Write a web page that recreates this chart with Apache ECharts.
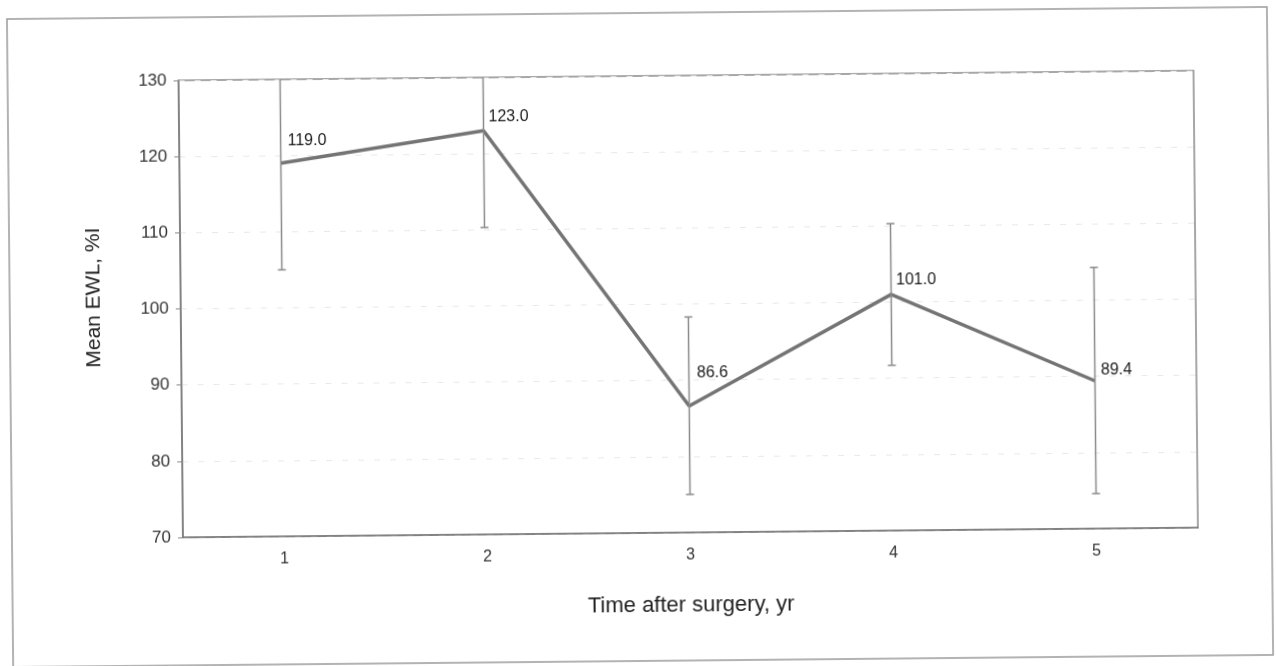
<!DOCTYPE html>
<html>
<head>
<meta charset="utf-8">
<script src="https://cdn.jsdelivr.net/npm/echarts@6/dist/echarts.min.js"></script>
<style>
html,body{margin:0;padding:0;background:#fff;}
#chart{width:1276px;height:666px;transform:rotate(-0.55deg);transform-origin:638px 333px;}
</style>
</head>
<body>
<div id="chart"></div>
<script>
// ---- data ----
const categories = ['1', '2', '3', '4', '5'];
const meanEWL = [119.0, 123.0, 86.6, 101.0, 89.4];
const errLow = [105.0, 110.3, 75.0, 91.7, 74.6];
const errHigh = [133.0, 135.7, 98.3, 110.3, 104.3];
const yTicks = [70, 80, 90, 100, 110, 120, 130];
// label placement (style only)
const labelOffsets = [[4, -22], [2, -14], [5, -33], [2, -14], [3, -11]];

const chart = echarts.init(document.getElementById('chart'));
const FONT = '"Liberation Sans", Arial, sans-serif';

const option = {
  animation: false,
  backgroundColor: '#fff',
  graphic: [{
    type: 'rect',
    shape: { x: 10, y: 13, width: 1260, height: 648 },
    style: { fill: 'none', stroke: '#9a9a9a', lineWidth: 1.5 },
    silent: true
  }],
  grid: {
    left: 181, right: 80, top: 76, bottom: 133,
    show: true, borderColor: '#8a8a8a', borderWidth: 1.5
  },
  xAxis: {
    type: 'category',
    data: categories,
    boundaryGap: true,
    name: 'Time after surgery, yr',
    nameLocation: 'middle',
    nameGap: 62,
    nameTextStyle: { fontFamily: FONT, fontSize: 22, color: '#222' },
    axisLine: { lineStyle: { color: '#777', width: 1.5 } },
    axisTick: { alignWithLabel: true, length: 5, lineStyle: { color: '#888' } },
    axisLabel: { fontFamily: FONT, fontSize: 16, color: '#333', margin: 15 },
    splitLine: { show: false }
  },
  yAxis: {
    type: 'value',
    min: yTicks[0],
    max: yTicks[yTicks.length - 1],
    interval: 10,
    name: 'Mean EWL, %I',
    nameLocation: 'middle',
    nameGap: 76,
    nameRotate: 90,
    nameTextStyle: { fontFamily: FONT, fontSize: 21, color: '#222', padding: [0, 0, 0, 24] },
    axisLine: { show: true, lineStyle: { color: '#777', width: 1.5 } },
    axisTick: { show: true, length: 5, lineStyle: { color: '#888' } },
    axisLabel: { fontFamily: FONT, fontSize: 17, color: '#333', margin: 12 },
    splitLine: { show: true, lineStyle: { color: '#e8e8e8', type: [6, 10], width: 1 } }
  },
  series: [
    {
      type: 'line',
      data: meanEWL.map((v, i) => ({
        value: v,
        label: { offset: labelOffsets[i] }
      })),
      symbol: 'circle',
      symbolSize: 2,
      showSymbol: true,
      itemStyle: { color: 'rgba(0,0,0,0)' },
      lineStyle: { color: '#747474', width: 3.5 },
      label: {
        show: true,
        position: 'right',
        distance: 2,
        formatter: p => p.value.toFixed(1),
        fontFamily: FONT,
        fontSize: 16,
        color: '#1a1a1a'
      },
      z: 2
    },
    {
      type: 'custom',
      clip: true,
      data: categories.map((c, i) => [i, errLow[i], errHigh[i]]),
      renderItem: function (params, api) {
        const x = api.value(0);
        const lo = api.coord([x, api.value(1)]);
        const hi = api.coord([x, api.value(2)]);
        const w = 4;
        const st = { stroke: '#8a8a8a', lineWidth: 1.5 };
        return {
          type: 'group',
          children: [
            { type: 'line', shape: { x1: lo[0], y1: lo[1], x2: hi[0], y2: hi[1] }, style: st },
            { type: 'line', shape: { x1: lo[0] - w, y1: lo[1], x2: lo[0] + w, y2: lo[1] }, style: st },
            { type: 'line', shape: { x1: hi[0] - w, y1: hi[1], x2: hi[0] + w, y2: hi[1] }, style: st }
          ]
        };
      },
      z: 3
    }
  ]
};
chart.setOption(option);
</script>
</body>
</html>
